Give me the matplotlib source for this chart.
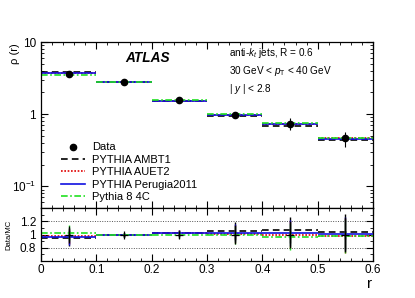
import matplotlib
matplotlib.use("Agg")
import matplotlib.pyplot as plt
from matplotlib.lines import Line2D
from matplotlib.ticker import MultipleLocator, LogLocator, NullFormatter, FixedLocator, FuncFormatter

plt.rcParams['font.family'] = ['Liberation Sans', 'DejaVu Sans']
plt.rcParams['mathtext.fontset'] = 'custom'
plt.rcParams['mathtext.rm'] = 'Liberation Sans'
plt.rcParams['mathtext.it'] = 'Liberation Sans:italic'

# bins in r
bin_lo = [0.0, 0.1, 0.2, 0.3, 0.4, 0.5]
bin_hi = [0.1, 0.2, 0.3, 0.4, 0.5, 0.6]
r_mid = [0.05, 0.15, 0.25, 0.35, 0.45, 0.55]

# differential jet shape rho(r)
data = [3.6, 2.8, 1.55, 0.98, 0.74, 0.46]
data_err = [0.12, 0.06, 0.07, 0.10, 0.14, 0.11]
ambt1 = [3.79, 2.80, 1.51, 0.93, 0.69, 0.44]
auet2 = [3.67, 2.80, 1.51, 0.97, 0.74, 0.47]
perugia = [3.71, 2.80, 1.51, 0.96, 0.73, 0.455]
py8_4c = [3.53, 2.80, 1.55, 0.99, 0.76, 0.47]

# Data/MC ratios
ratio_ambt1 = [0.95, 1.0, 1.025, 1.055, 1.065, 1.045]
ratio_auet2 = [0.98, 1.0, 1.025, 1.01, 1.0, 0.985]
ratio_perugia = [0.97, 1.0, 1.025, 1.02, 1.02, 1.01]
ratio_py8 = [1.02, 1.0, 1.0, 0.99, 0.97, 0.98]
ratio_err = [0.125, 0.03, 0.05, 0.14, 0.2, 0.26]

models = [
    ("PYTHIA AMBT1", ambt1, ratio_ambt1, dict(color="black", linestyle=(0, (4, 2.5)))),
    ("PYTHIA AUET2", auet2, ratio_auet2, dict(color="#e00000", linestyle=(0, (1, 1)))),
    ("PYTHIA Perugia2011", perugia, ratio_perugia, dict(color="#1010e0", linestyle="-")),
    ("Pythia 8 4C", py8_4c, ratio_py8, dict(color="#20e020", linestyle=(0, (4, 1.5, 1, 1.5)))),
]

fig = plt.figure(figsize=(4.15, 2.98), dpi=100)
ax = fig.add_axes([0.0988, 0.302, 0.8, 0.557])
axr = fig.add_axes([0.0988, 0.124, 0.8, 0.178], sharex=ax)

handles = []
for label, vals, rat, st in models:
    ax.hlines(vals, bin_lo, bin_hi, linewidth=1.2, **st)
    axr.hlines(rat, bin_lo, bin_hi, linewidth=1.2, **st)
    axr.vlines(r_mid, [v - e for v, e in zip(rat, ratio_err)],
               [v + e for v, e in zip(rat, ratio_err)], color=st["color"], linewidth=1.0)
    handles.append(Line2D([], [], linewidth=1.2, label=label, **st))

ax.errorbar(r_mid, data, yerr=data_err, fmt="o", color="black", markersize=4.5,
            elinewidth=0.8, capsize=0)
axr.vlines(r_mid, [1 - e for e in ratio_err], [1 + e for e in ratio_err],
           color="black", linewidth=0.9)
axr.plot(r_mid, [1.0] * 6, "+", color="black", markersize=6, markeredgewidth=0.9)

data_handle = Line2D([], [], marker="o", color="black", linestyle="none",
                     markersize=4.5, label="Data")

ax.set_yscale("log")
ax.set_ylim(0.05, 10)
ax.set_xlim(0, 0.6)
ax.yaxis.set_major_locator(FixedLocator([0.1, 1, 10]))
ax.yaxis.set_major_formatter(FuncFormatter(
    lambda v, p: {0.1: "10$^{-1}$", 1: "1", 10: "10"}.get(round(v, 3), "")))
ax.yaxis.set_minor_locator(LogLocator(base=10, subs=range(2, 10)))
ax.yaxis.set_minor_formatter(NullFormatter())

axr.set_ylim(0.6, 1.4)
axr.yaxis.set_major_locator(FixedLocator([0.8, 1.0, 1.2]))
axr.yaxis.set_major_formatter(FuncFormatter(lambda v, p: f"{v:g}"))
axr.yaxis.set_minor_locator(MultipleLocator(0.1))
axr.xaxis.set_major_locator(MultipleLocator(0.1))
axr.xaxis.set_minor_locator(MultipleLocator(0.02))
axr.xaxis.set_major_formatter(FuncFormatter(lambda v, p: f"{round(v, 2):g}"))
for yv in (0.8, 1.2):
    axr.axhline(yv, color="#555555", linestyle=(0, (1, 1.5)), linewidth=0.7, zorder=0)

for a in (ax, axr):
    a.tick_params(which="both", direction="in", top=True, right=True, labelsize=8.5)
    a.tick_params(which="major", length=5, width=0.8)
    a.tick_params(which="minor", length=2.5, width=0.6)
    for s in a.spines.values():
        s.set_linewidth(0.9)
ax.tick_params(labelbottom=False)
axr.tick_params(axis="x", pad=2)

ax.text(0.255, 0.904, "ATLAS", transform=ax.transAxes, fontsize=9.8,
        fontweight="bold", fontstyle="italic", va="center")
ax.text(0.565, 0.934, "anti-$k_{t}$ jets, R = 0.6", transform=ax.transAxes,
        fontsize=7.2, va="center")
ax.text(0.565, 0.825, "30 GeV < $p_{\\rm T}$ < 40 GeV", transform=ax.transAxes,
        fontsize=7.2, va="center")
ax.text(0.565, 0.717, "| $y$ | < 2.8", transform=ax.transAxes,
        fontsize=7.2, va="center")

ax.legend(handles=[data_handle] + handles, loc="upper left",
          bbox_to_anchor=(0.06, 0.395), frameon=False, fontsize=8,
          handlelength=2.2, handletextpad=0.6, labelspacing=0.22,
          borderpad=0, borderaxespad=0)

fig.text(0.036, 0.855, "ρ (r)", rotation=90, fontsize=8, ha="center", va="top")
fig.text(0.022, 0.212, "Data/MC", rotation=90, fontsize=5.5, ha="center", va="center")
fig.text(0.89, 0.047, "r", fontsize=11, ha="center", va="center")

fig.savefig("out.png", dpi=100)
